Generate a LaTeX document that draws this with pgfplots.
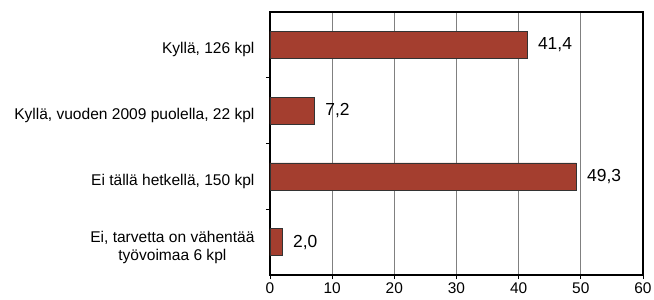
\documentclass[border=0pt]{standalone}
\usepackage{fontspec}
\setmainfont{Liberation Sans}
\usepackage{pgfplots}
\pgfplotsset{compat=1.18}
\definecolor{barred}{RGB}{164,62,47}
\begin{document}
\begin{tikzpicture}
\useasboundingbox (-270bp,-25bp) rectangle (384bp,275bp);
\begin{axis}[
  at={(0,0)}, anchor=south west,
  scale only axis, width=373bp, height=263bp,
  xbar, bar width=27bp,
  xmin=0, xmax=60, xtick={0,10,...,60},
  ymin=0.5, ymax=4.5, y dir=reverse,
  ytick={1,2,3,4},
  yticklabels={{Kyllä, 126 kpl},{Kyllä, vuoden 2009 puolella, 22 kpl},{Ei tällä hetkellä, 150 kpl},{Ei, tarvetta on vähentää\\työvoimaa 6 kpl}},
  minor ytick={1.5,2.5,3.5},
  tick align=outside, tick pos=left,
  major tick length=4bp, minor tick length=4bp,
  y tick style={draw=none},
  minor y tick style={draw=black, line width=0.8bp},
  x tick style={draw=black, line width=0.8bp},
  xmajorgrids,
  major grid style={draw=gray, line width=0.8bp},
  axis line style={line width=1.2bp},
  /pgf/number format/assume math mode=true,
  xticklabel style={font=\fontsize{15.5}{17}\selectfont},
  yticklabel style={font=\fontsize{15.6}{18}\selectfont, align=center, xshift=-8bp, yshift=-5bp},
  nodes near coords={\pgfmathprintnumber[use comma,fixed,fixed zerofill,precision=1,assume math mode=true]{\pgfplotspointmeta}},
  nodes near coords style={anchor=west, xshift=7bp, font=\fontsize{17.5}{20}\selectfont},
]
\addplot[fill=barred, draw=black!80, line width=0.7bp] coordinates {(41.4,1) (7.2,2) (49.3,3) (2.0,4)};
\end{axis}
\end{tikzpicture}
\end{document}
